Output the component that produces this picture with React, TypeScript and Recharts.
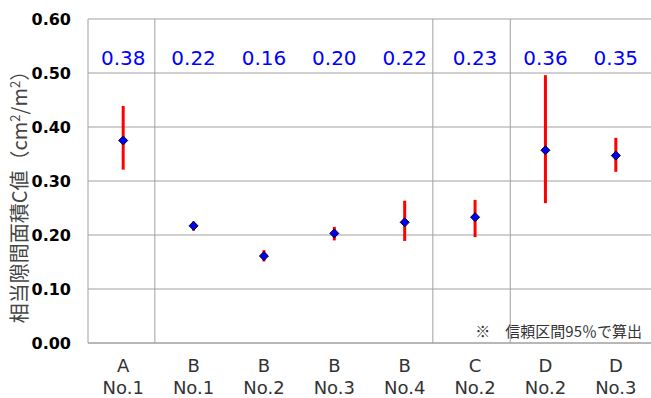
import React from 'react';
import { ComposedChart, Scatter, XAxis, YAxis, CartesianGrid, ErrorBar, ReferenceLine } from 'recharts';

const groups = ['A', 'B', 'B', 'B', 'B', 'C', 'D', 'D'];
const samples = ['No.1', 'No.1', 'No.2', 'No.3', 'No.4', 'No.2', 'No.2', 'No.3'];
const means = [0.375, 0.217, 0.161, 0.203, 0.2235, 0.233, 0.357, 0.347];
const upper = [0.439, 0.225, 0.172, 0.215, 0.2635, 0.265, 0.496, 0.38];
const lower = [0.321, 0.208, 0.151, 0.19, 0.189, 0.196, 0.259, 0.317];
const labels = ['0.38', '0.22', '0.16', '0.20', '0.22', '0.23', '0.36', '0.35'];
const yTicks = [0, 0.1, 0.2, 0.3, 0.4, 0.5, 0.6];
const xTicks = [0.5, 1.5, 2.5, 3.5, 4.5, 5.5, 6.5, 7.5];
const separators = [0.95, 4.9, 6.0];

const data = means.map((m, i) => ({
  x: xTicks[i],
  y: m,
  err: [m - lower[i], upper[i] - m],
  label: labels[i],
}));

const GRID = '#a0a0a0';
const CJK = '"Noto Sans CJK JP", "DejaVu Sans", sans-serif';

const Diamond = (props: any) => {
  const { cx, cy, payload } = props;
  const r = 4.5;
  return (
    <g>
      <polygon
        points={`${cx},${cy - r} ${cx + r},${cy} ${cx},${cy + r} ${cx - r},${cy}`}
        fill="#0000ff"
        stroke="#000"
        strokeWidth={1}
      />
      <text x={cx} y={65} textAnchor="middle" fontFamily="DejaVu Sans" fontSize={20} fill="#0000ff">
        {payload.label}
      </text>
    </g>
  );
};

const YTick = (props: any) => {
  const { x, y, payload } = props;
  return (
    <text x={x} y={y + 6} textAnchor="end" fontFamily="DejaVu Sans" fontWeight="bold" fontSize={16} fill="#000">
      {Number(payload.value).toFixed(2)}
    </text>
  );
};

const XTick = (props: any) => {
  const { x, y, payload } = props;
  const i = xTicks.indexOf(payload.value);
  return (
    <text textAnchor="middle" fontFamily="DejaVu Sans" fontSize={18} fill="#333">
      <tspan x={x} y={y + 29}>{groups[i]}</tspan>
      <tspan x={x} y={y + 51}>{samples[i]}</tspan>
    </text>
  );
};

const YLabel = () => (
  <text
    transform="translate(27,192) rotate(-90)"
    textAnchor="middle"
    fontFamily={CJK}
    fontSize={20}
    fill="#444"
  >
    相当隙間面積C値（cm
    <tspan dy={-7} fontSize={13}>2</tspan>
    <tspan dy={7}>/m</tspan>
    <tspan dy={-7} fontSize={13}>2</tspan>
    <tspan dy={7}>）</tspan>
  </text>
);

const Note = () => (
  <text x={642} y={337} textAnchor="end" fontFamily={CJK} fontSize={15} fill="#333">
    ※　信頼区間95％で算出
  </text>
);

export default function App() {
  return (
    <div style={{ position: 'absolute', left: 0, top: 0, background: '#fff' }}>
      <ComposedChart width={651} height={398} data={data} margin={{ top: 19, right: 0, bottom: 0, left: 0 }}>
        <CartesianGrid vertical={false} stroke={GRID} strokeWidth={1} />
        <XAxis
          type="number"
          dataKey="x"
          domain={[0, 8]}
          ticks={xTicks}
          interval={0}
          height={55}
          tickLine={false}
          tickSize={0}
          tickMargin={0}
          axisLine={{ stroke: GRID }}
          tick={<XTick />}
          label={{ content: <Note /> }}
        />
        <YAxis
          type="number"
          domain={[0, 0.6]}
          ticks={yTicks}
          interval={0}
          width={88}
          tickLine={false}
          tickSize={0}
          tickMargin={17}
          axisLine={{ stroke: GRID }}
          tick={<YTick />}
          label={{ content: <YLabel /> }}
        />
        {separators.map((s) => (
          <ReferenceLine key={s} x={s} stroke={GRID} strokeWidth={1} />
        ))}
        <Scatter dataKey="y" isAnimationActive={false} shape={<Diamond />}>
          <ErrorBar dataKey="err" direction="y" width={0} stroke="#ff0000" strokeWidth={3} isAnimationActive={false} />
        </Scatter>
      </ComposedChart>
    </div>
  );
}
